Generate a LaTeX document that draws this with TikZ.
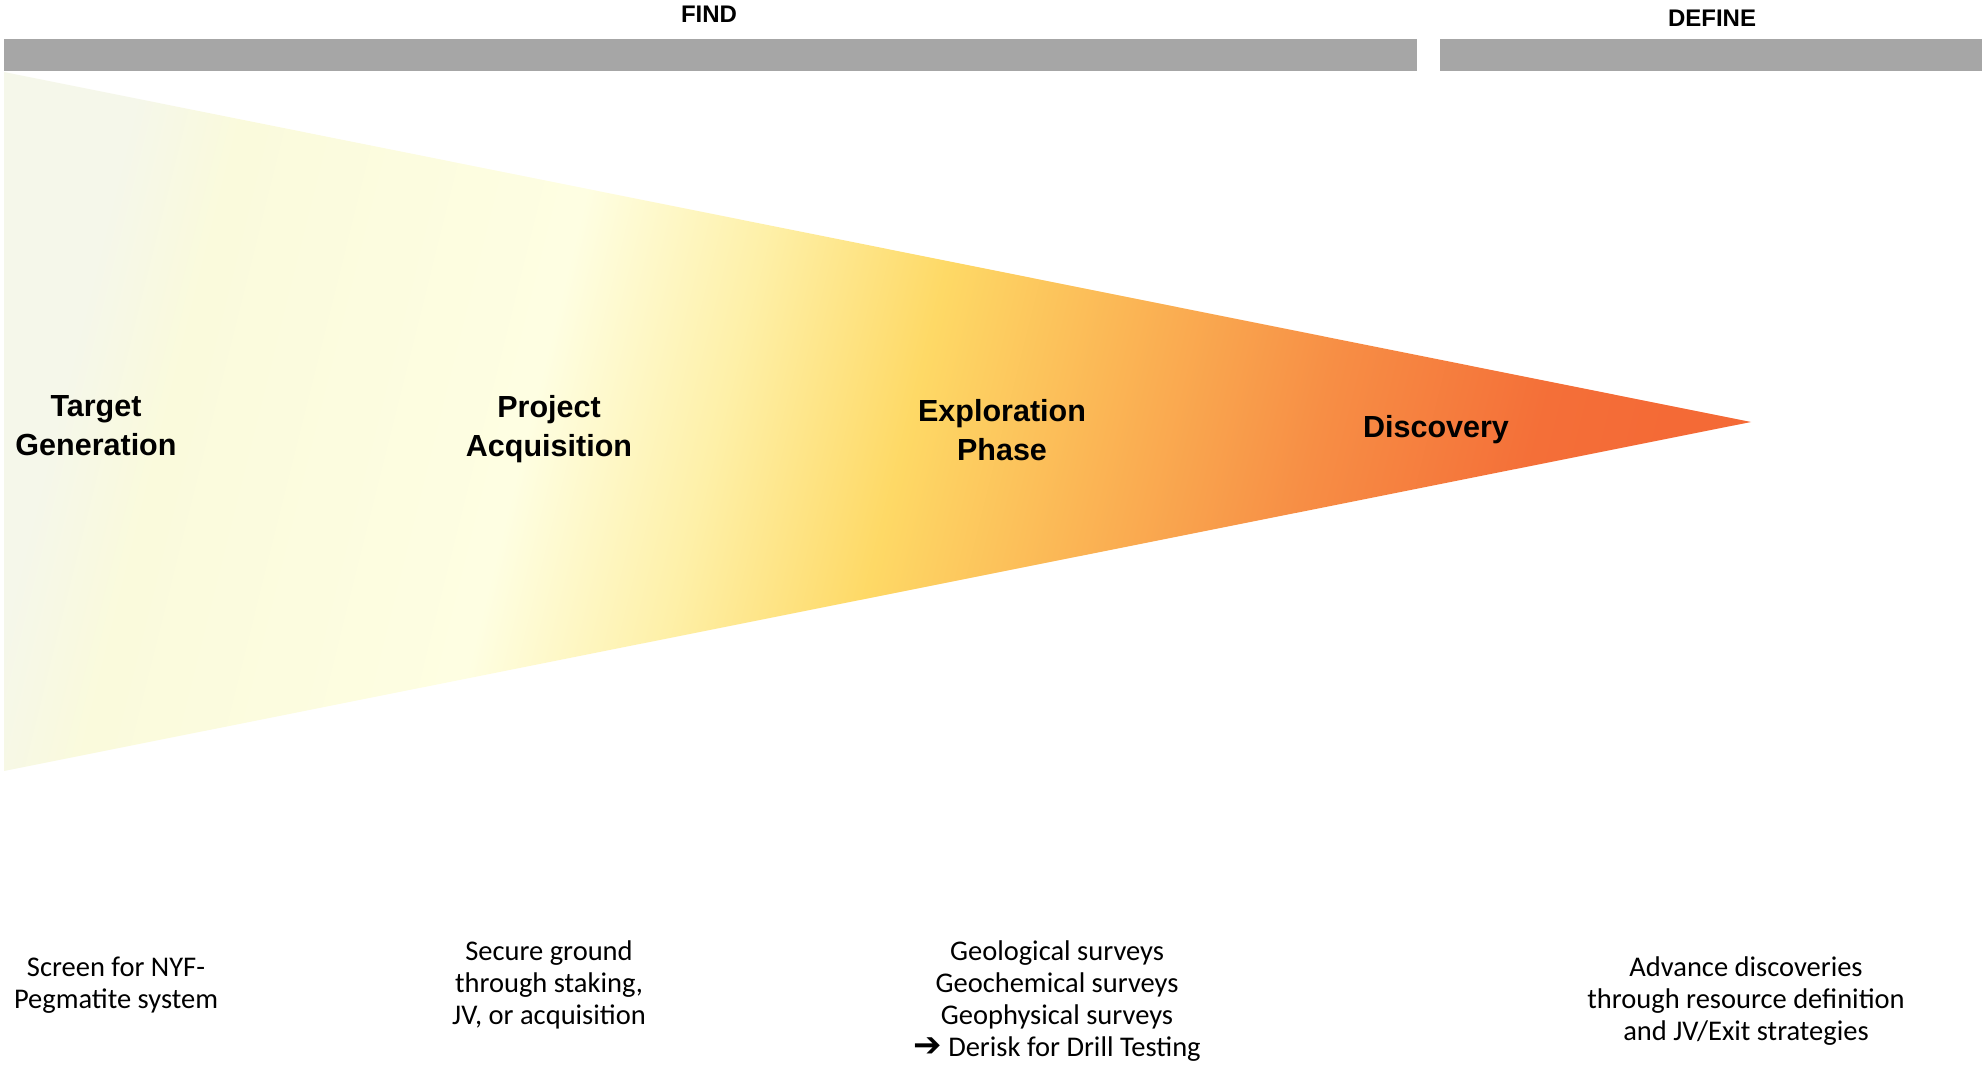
\documentclass[tikz,border=0pt]{standalone}
\usepackage{fontspec}
\setmainfont{Carlito}
\newfontfamily\labfont{Liberation Sans}
\newfontfamily\arrowfont{DejaVu Sans}
\definecolor{barg}{HTML}{A6A6A6}
\definecolor{c0}{HTML}{F5F7EA}
\definecolor{c1}{HTML}{FAFADC}
\definecolor{c2}{HTML}{FEFEE2}
\definecolor{c3}{HTML}{FEF0A8}
\definecolor{c4}{HTML}{FED966}
\definecolor{c5}{HTML}{FBB655}
\definecolor{c6}{HTML}{F78E45}
\definecolor{c7}{HTML}{F46F38}
\definecolor{c8}{HTML}{F46A36}
\pgfdeclarehorizontalshading{funnel}{100bp}{color(0bp)=(c0); color(24bp)=(c0); color(27.5bp)=(c1); color(39bp)=(c2); color(45bp)=(c3); color(51bp)=(c4); color(57bp)=(c5); color(64bp)=(c6); color(71bp)=(c7); color(75bp)=(c8); color(100bp)=(c8)}
\tikzset{
  phase/.style={font=\labfont\bfseries\fontsize{30.5}{39}\selectfont, align=center, inner sep=0pt, text=black},
  head/.style={font=\labfont\bfseries\fontsize{24}{28}\selectfont, inner sep=0pt},
  desc/.style={font=\fontsize{28.5}{32}\selectfont, align=center, inner sep=0pt},
  bar/.style={fill=barg, draw=none}
}
\begin{document}
\begin{tikzpicture}[x=1pt,y=-1pt]
\useasboundingbox (0,0) rectangle (1982,1067);
% bars
\fill[bar] (4,39) rectangle (1417,71);
\fill[bar] (1440,39) rectangle (1982,71);
\node[head] (find) at (709,14) {FIND};
\node[head] (define) at (1712,18) {DEFINE};
% funnel
\shade[shading=funnel, shading angle=-14] (4,72) -- (1751,422) -- (4,771) -- cycle;
\node[phase] (tg) at (96,426) {Target\\Generation};
\node[phase] (pa) at (549,429) {Project\\Acquisition};
\node[phase] (ep) at (1002,430) {Exploration\\Phase};
\node[phase] (dc) at (1436,430) {Discovery};
% descriptions
\node[desc] (d1) at (116,985) {Screen for NYF-\\Pegmatite system};
\node[desc] (d2) at (549,985) {Secure ground\\through staking,\\JV, or acquisition};
\node[desc] (d3) at (1057,1001) {Geological surveys\\Geochemical surveys\\Geophysical surveys\\{\arrowfont\bfseries\fontsize{34}{32}\selectfont ➔} Derisk for Drill Testing};
\node[desc] (d4) at (1746,1001) {Advance discoveries\\through resource definition\\and JV/Exit strategies};
\end{tikzpicture}
\end{document}
